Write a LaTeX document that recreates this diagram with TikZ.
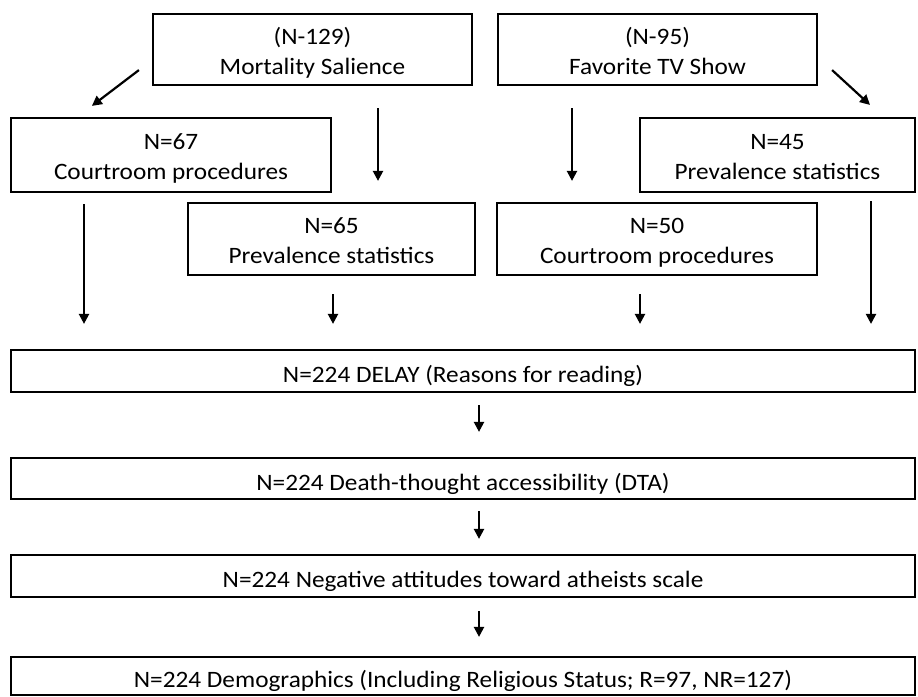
\documentclass[tikz,border=0pt]{standalone}
\usepackage{fontspec}
\setmainfont{Carlito}[FakeStretch=1.075]
\usetikzlibrary{arrows.meta,calc}
\begin{document}
\begin{tikzpicture}[x=1pt,y=-1pt,
  box/.style={draw, line width=2.2pt, inner sep=0pt, font=\fontsize{23.5}{30}\selectfont},
  two/.style={box, text height=58pt, text depth=9pt},
  one/.style={box, text height=28pt, text depth=5pt},
  arr/.style={line width=2.2pt, -{Triangle[length=10pt,width=10pt]}}]
\useasboundingbox (0,0) rectangle (918,696);
\fill[white] (0,0) rectangle (918,696);
% top row
\node[two, minimum width=319pt, minimum height=71pt] (ms) at (312.5,49.5)
  {\begin{tabular}[b]{@{}c@{}}(N-129)\\Mortality Salience\end{tabular}};
\node[two, minimum width=319pt, minimum height=71pt] (tv) at (657.5,49.5)
  {\begin{tabular}[b]{@{}c@{}}(N-95)\\Favorite TV Show\end{tabular}};
% second row
\node[two, minimum width=320pt, minimum height=74pt] (c67) at (171,155)
  {\begin{tabular}[b]{@{}c@{}}N=67\\Courtroom procedures\end{tabular}};
\node[two, minimum width=275pt, minimum height=74pt] (p45) at (777.5,155)
  {\begin{tabular}[b]{@{}c@{}}N=45\\Prevalence statistics\end{tabular}};
% third row
\node[two, minimum width=287pt, minimum height=72pt] (p65) at (331.5,239)
  {\begin{tabular}[b]{@{}c@{}}N=65\\Prevalence statistics\end{tabular}};
\node[two, minimum width=320pt, minimum height=72pt] (c50) at (657,239)
  {\begin{tabular}[b]{@{}c@{}}N=50\\Courtroom procedures\end{tabular}};
% wide boxes
\node[one, minimum width=904pt, minimum height=42pt] (delay) at (463,371)
  {N=224 DELAY (Reasons for reading)};
\node[one, minimum width=904pt, minimum height=41pt] (dta) at (463,478.5)
  {N=224 Death-thought accessibility (DTA)};
\node[one, minimum width=904pt, minimum height=42pt] (neg) at (463,576)
  {N=224 Negative attitudes toward atheists scale};
\node[one, minimum width=904pt, minimum height=38pt] (demo) at (463,676)
  {N=224 Demographics (Including Religious Status; R=97, NR=127)};
% arrows
\draw[arr] ($(ms.south west)+(-13,-16)$) -- ($(c67.north west)+(82,-11)$);
\draw[arr] ($(ms.south)+(65.5,22)$) -- ($(p65.north)+(46.5,-21)$);
\draw[arr] ($(tv.south)+(-85.5,22)$) -- ($(c50.north)+(-85,-21)$);
\draw[arr] ($(tv.south east)+(14,-16)$) -- ($(p45.north)+(92.5,-12)$);
\draw[arr] ($(c67.south)+(-87,11)$) -- ($(delay.north)+(-379,-25)$);
\draw[arr] ($(p65.south)+(1.5,18)$) -- ($(delay.north)+(-130,-25)$);
\draw[arr] ($(c50.south)+(-17,18)$) -- ($(delay.north)+(177,-25)$);
\draw[arr] ($(p45.south)+(93.5,8)$) -- ($(delay.north)+(408,-25)$);
\draw[arr] ($(delay.south)+(16,12)$) -- ($(dta.north)+(16,-25)$);
\draw[arr] ($(dta.south)+(16,11)$) -- ($(neg.north)+(16,-15)$);
\draw[arr] ($(neg.south)+(16,13)$) -- ($(demo.north)+(16,-19)$);
\end{tikzpicture}
\end{document}
